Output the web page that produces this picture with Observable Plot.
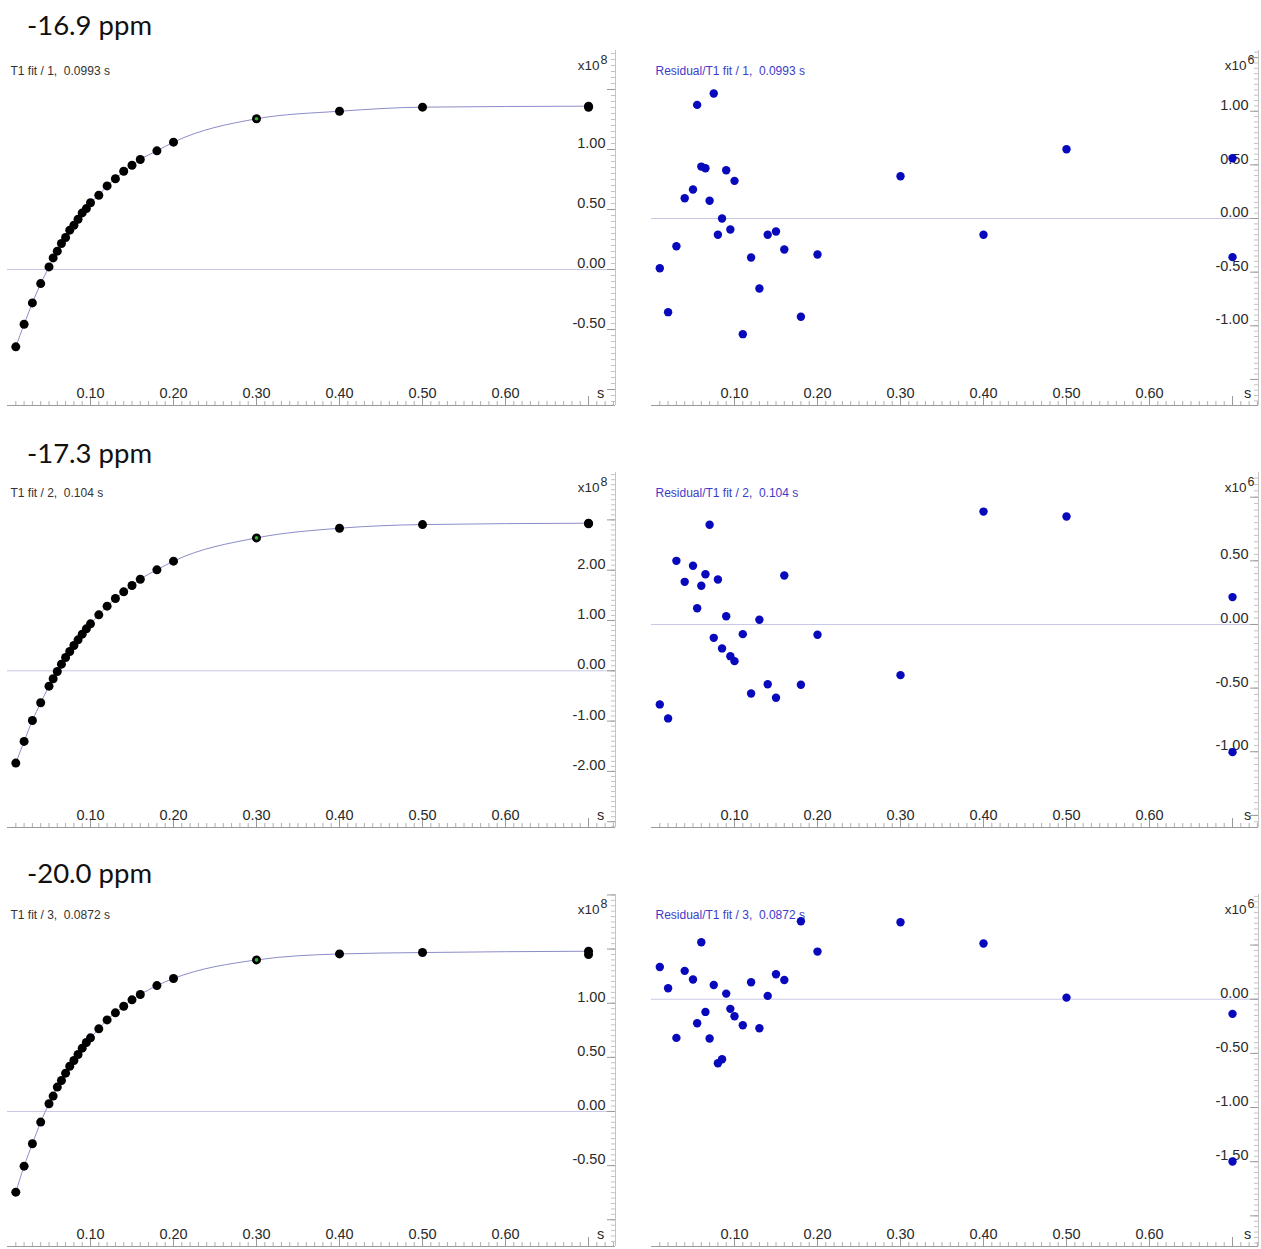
<!DOCTYPE html>
<html><head><meta charset="utf-8">
<script src="https://cdn.jsdelivr.net/npm/d3@7"></script>
<script src="https://cdn.jsdelivr.net/npm/@observablehq/plot@0.6"></script>
<style>
body{margin:0;background:#fff;}
#wrap{position:relative;width:1261px;height:1249px;overflow:hidden;font-family:"Liberation Sans",Arial,sans-serif;}
.row-title{position:absolute;left:27px;font-family:Lato,"Open Sans",sans-serif;font-size:27.5px;color:#111;line-height:28px;white-space:pre;}
.panel{position:absolute;}
svg text{white-space:pre;}
</style></head><body><div id="wrap"></div>
<script>
// ---------- data ----------
const rowTitles = ["-16.9 ppm", "-17.3 ppm", "-20.0 ppm"];
const fitLabels = ["T1 fit / 1,  0.0993 s", "T1 fit / 2,  0.104 s", "T1 fit / 3,  0.0872 s"];
const residLabels = ["Residual/T1 fit / 1,  0.0993 s", "Residual/T1 fit / 2,  0.104 s", "Residual/T1 fit / 3,  0.0872 s"];

// delay times (s)
const delay = [0.01, 0.02, 0.03, 0.04, 0.05, 0.055, 0.06, 0.065, 0.07, 0.075, 0.08, 0.085, 0.09, 0.095, 0.10,
  0.11, 0.12, 0.13, 0.14, 0.15, 0.16, 0.18, 0.20, 0.30, 0.40, 0.50, 0.70, 0.70];

// signal intensity (x10^8)
const signal1 = [-0.644, -0.456, -0.278, -0.117, 0.022, 0.097, 0.153, 0.217, 0.267, 0.328, 0.369, 0.419, 0.472, 0.508, 0.556,
  0.619, 0.697, 0.756, 0.819, 0.869, 0.917, 0.989, 1.061, 1.256, 1.319, 1.353, 1.361, 1.352];
const signal2 = [-1.834, -1.404, -0.987, -0.636, -0.305, -0.159, -0.013, 0.132, 0.265, 0.384, 0.503, 0.616, 0.728, 0.834, 0.934,
  1.113, 1.285, 1.437, 1.570, 1.695, 1.821, 2.007, 2.179, 2.642, 2.834, 2.907, 2.934, 2.922];
const signal3 = [-0.745, -0.505, -0.298, -0.098, 0.071, 0.142, 0.225, 0.286, 0.354, 0.418, 0.471, 0.526, 0.585, 0.637, 0.680,
  0.763, 0.846, 0.911, 0.972, 1.031, 1.080, 1.163, 1.228, 1.400, 1.455, 1.468, 1.480, 1.449];

// residuals (x10^6)
const resid1 = [-0.463, -0.873, -0.258, 0.189, 0.270, 1.059, 0.484, 0.469, 0.165, 1.165, -0.152, 0.000, 0.450, -0.102, 0.351,
  -1.078, -0.363, -0.652, -0.152, -0.121, -0.289, -0.916, -0.335, 0.394, -0.152, 0.646, 0.562, -0.360];
const resid2 = [-0.628, -0.738, 0.500, 0.335, 0.461, 0.128, 0.304, 0.395, 0.783, -0.105, 0.353, -0.188, 0.065, -0.249, -0.288,
  -0.076, -0.542, 0.037, -0.469, -0.576, 0.385, -0.474, -0.081, -0.398, 0.887, 0.848, 0.215, -1.003];
const resid3 = [0.298, 0.102, -0.357, 0.262, 0.182, -0.222, 0.526, -0.117, -0.363, 0.132, -0.591, -0.554, 0.052, -0.089, -0.157,
  -0.240, 0.157, -0.268, 0.031, 0.231, 0.178, 0.720, 0.440, 0.711, 0.514, 0.015, -0.135, -1.498];

// axis tick labels
const xTickLabels = [0.10, 0.20, 0.30, 0.40, 0.50, 0.60];
const xUnitTick = [0.70];
const signalTickLabels = [[-0.5, 0, 0.5, 1.0], [-2, -1, 0, 1, 2], [-0.5, 0, 0.5, 1.0]];
const residTickLabels = [[-1.0, -0.5, 0, 0.5, 1.0], [-1.0, -0.5, 0, 0.5], [-1.5, -1.0, -0.5, 0]];
const signalExponent = "8";
const residExponent = "6";

// ---------- layout ----------
const rowTop = [48, 470, 892];
const rowHeight = [362, 362, 357];
const rowMarginBottom = [5, 5, 3];
const signalDomains = [[-1.133, 1.825], [-3.115, 3.942], [-1.247, 2.004]];
const signalSteps = [[0.5, 0.05], [1, 0.1], [0.5, 0.05]];
const residDomains = [[-1.743, 1.566], [-1.595, 1.194], [-2.283, 0.967]];
const residSteps = [[0.5, 0.05], [0.5, 0.05], [0.5, 0.05]];
const titleTop = [11, 439, 859];

const axisGray = "#9a9a9a";
const textGray = "#2a2a2a";

function stepTicks(domain, step) {
  const out = [];
  const k0 = Math.ceil(domain[0] / step - 1e-9), k1 = Math.floor(domain[1] / step + 1e-9);
  for (let k = k0; k <= k1; k++) out.push(+(k * step).toFixed(4));
  return out;
}

function panel({values, yDomain, steps, tickLabels, label, labelColor, exponent, kind, width, height, marginLeft, marginRight, marginBottom, xMax, expDx, expSupDx}) {
  const data = delay.map((t, i) => ({t, v: values[i]}));
  const plotW = width - marginLeft - marginRight;
  const plotH = height - 2 - marginBottom;
  const xMinor = stepTicks([0.005, xMax], 0.01);
  const xMajor = xTickLabels.concat(xUnitTick);
  const yMajor = stepTicks(yDomain, steps[0]);
  const yMinor = stepTicks(yDomain, steps[1]);
  const marks = [
    Plot.ruleY([0], {stroke: "#c8c8e6", strokeWidth: 1}),
    // bottom axis
    Plot.ruleY([yDomain[0]], {stroke: axisGray, strokeWidth: 1}),
    Plot.ruleX(xMinor, {x: d => d, stroke: axisGray, strokeWidth: 0.8, insetTop: plotH - 4}),
    Plot.ruleX(xMajor, {x: d => d, stroke: axisGray, strokeWidth: 1, insetTop: plotH - 9}),
    Plot.text(xTickLabels, {x: d => d, text: d => d.toFixed(2), frameAnchor: "bottom", dy: -12, lineAnchor: "middle", fontSize: 14.5, fill: textGray}),
    Plot.text(xUnitTick, {x: d => d, text: () => "s", frameAnchor: "bottom", dy: -12, dx: kind === "fit" ? 12 : 15, lineAnchor: "middle", fontSize: 14.5, fill: textGray}),
    // right axis
    Plot.ruleX([xMax], {stroke: "#c4c4c4", strokeWidth: 1}),
    Plot.ruleY(yMinor, {y: d => d, stroke: "#b4b4b4", strokeWidth: 0.8, insetLeft: plotW - 4}),
    Plot.ruleY(yMajor, {y: d => d, stroke: axisGray, strokeWidth: 1, insetLeft: plotW - 8}),
    Plot.text(tickLabels, {y: d => d, text: d => d.toFixed(2), frameAnchor: "right", textAnchor: "end", dx: -10, dy: -6, lineAnchor: "middle", fontSize: 14.5, fill: textGray}),
    Plot.text(["x10"], {frameAnchor: "top-right", textAnchor: "end", dx: expDx, dy: 15, lineAnchor: "middle", fontSize: 13.5, fill: textGray}),
    Plot.text([exponent], {frameAnchor: "top-right", textAnchor: "end", dx: expSupDx, dy: 9, lineAnchor: "middle", fontSize: 12.5, fill: textGray}),
    // panel label
    Plot.text([label], {frameAnchor: "top-left", textAnchor: "start", dx: kind === "fit" ? 3 : 4, dy: 21, lineAnchor: "middle", fontSize: 12, fill: labelColor})
  ];
  if (kind === "fit") {
    const seen = new Set();
    const curve = data.filter(d => (seen.has(d.t) ? false : (seen.add(d.t), true)));
    marks.push(Plot.line(curve, {x: "t", y: "v", stroke: "#8c8cc8", strokeWidth: 1, curve: "monotone-x"}));
    marks.push(Plot.dot(data, {x: "t", y: "v", r: 4.5, fill: "#000", stroke: "none"}));
    marks.push(Plot.dot(data.filter(d => d.t === 0.30), {x: "t", y: "v", r: 1.8, fill: "#2fb52f", stroke: "none"}));
  } else {
    marks.push(Plot.dot(data, {x: "t", y: "v", r: 4.2, fill: "#0808bc", stroke: "none"}));
  }
  return Plot.plot({
    width, height, marginLeft, marginRight, marginTop: 2, marginBottom,
    x: {domain: [0, xMax], axis: null},
    y: {domain: yDomain, axis: null},
    style: {fontFamily: "'Liberation Sans', Arial, sans-serif", fontSize: "14px", background: "transparent", overflow: "visible"},
    marks
  });
}

const wrap = document.getElementById("wrap");
const signals = [signal1, signal2, signal3];
const resids = [resid1, resid2, resid3];
for (let r = 0; r < 3; r++) {
  const title = document.createElement("div");
  title.className = "row-title";
  title.style.top = titleTop[r] + "px";
  title.textContent = rowTitles[r];
  wrap.appendChild(title);

  const left = panel({values: signals[r], yDomain: signalDomains[r], steps: signalSteps[r], tickLabels: signalTickLabels[r],
    label: fitLabels[r], labelColor: "#333", exponent: signalExponent, kind: "fit",
    width: 620, height: rowHeight[r], marginLeft: 7, marginRight: 5, marginBottom: rowMarginBottom[r], xMax: 0.7325, expDx: -16, expSupDx: -8});
  left.classList.add("panel");
  left.style.left = "0px"; left.style.top = rowTop[r] + "px";
  wrap.appendChild(left);

  const right = panel({values: resids[r], yDomain: residDomains[r], steps: residSteps[r], tickLabels: residTickLabels[r],
    label: residLabels[r], labelColor: "#3c3cc8", exponent: residExponent, kind: "resid",
    width: 641, height: rowHeight[r], marginLeft: 31, marginRight: 3, marginBottom: rowMarginBottom[r], xMax: 0.7313, expDx: -12, expSupDx: -4});
  right.classList.add("panel");
  right.style.left = "620px"; right.style.top = rowTop[r] + "px";
  wrap.appendChild(right);
}
</script></body></html>
